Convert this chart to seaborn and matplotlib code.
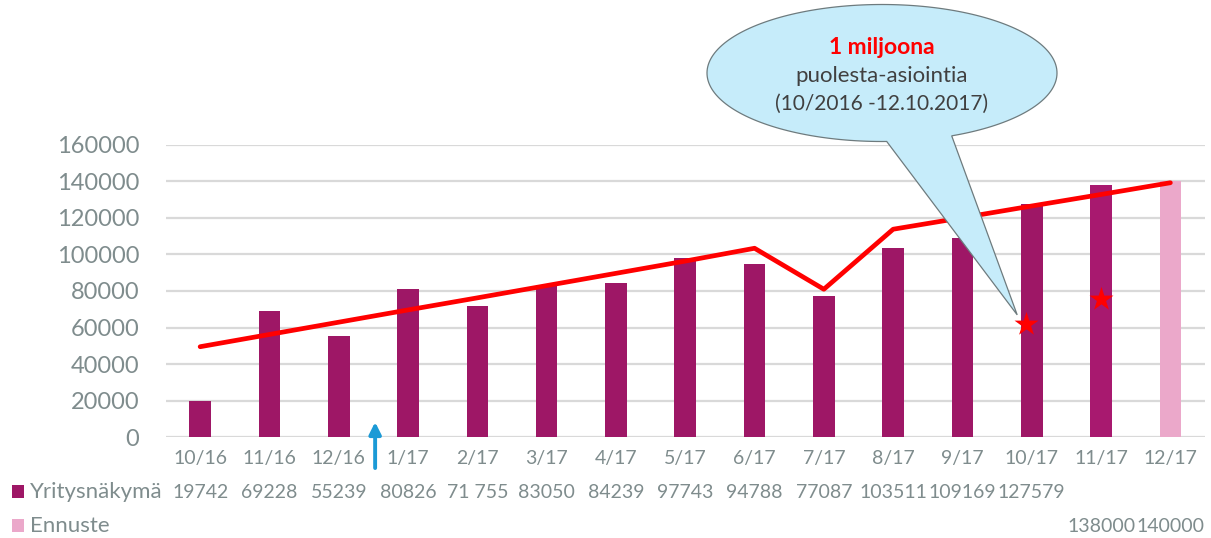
import numpy as np
import pandas as pd
import matplotlib
matplotlib.use('Agg')
import matplotlib.pyplot as plt
import matplotlib.transforms as mtransforms
from matplotlib.patches import Polygon, Rectangle
import seaborn as sns

# Données
months = ['10/16', '11/16', '12/16', '1/17', '2/17', '3/17', '4/17', '5/17',
          '6/17', '7/17', '8/17', '9/17', '10/17', '11/17', '12/17']
yritys = [19742, 69228, 55239, 80826, 71755, 83050, 84239, 97743,
          94788, 77087, 103511, 109169, 127579]
yritys_labels = ['19742', '69228', '55239', '80826', '71 755', '83050', '84239', '97743',
                 '94788', '77087', '103511', '109169', '127579']
ennuste = [138000, 140000]
trend = [49500, 56200, 62900, 69600, 76200, 82900, 89600, 96300,
         103300, 80900, 113700, 120000, 126400, 132700, 139100]
star_months = [11.91, 13]
star_values = [61900, 75400]
yticks = [0, 20000, 40000, 60000, 80000, 100000, 120000, 140000, 160000]

c_yritys = '#9E1766'
c_nov = '#A8196F'
c_ennuste = '#EBA8CA'
c_text = '#7F8C8D'

sns.set_style('white')
plt.rcParams['font.family'] = ['Lato', 'DejaVu Sans']

W, H = 1211, 538
fig = plt.figure(figsize=(W / 100, H / 100), dpi=100)
ax = fig.add_axes([165.5 / W, 1 - 437.3 / H, (1205 - 165.5) / W, 292.8 / H])

df = pd.DataFrame({'Kuukausi': months, 'Arvo': yritys + ennuste})
colors = [c_yritys] * len(yritys) + [c_nov, c_ennuste]
sns.barplot(data=df, x='Kuukausi', y='Arvo', hue='Kuukausi', palette=colors,
            order=months, width=0.313, saturation=1, linewidth=0, legend=False,
            ax=ax, zorder=2)

pos = np.arange(len(months))
sns.lineplot(x=pos, y=trend, color='#FF0000', linewidth=3.4, ax=ax, zorder=3)
sns.scatterplot(x=star_months, y=star_values, marker='*', s=330, color='#FF0000',
                linewidth=0, ax=ax, zorder=4)

ax.set_xlim(-0.5, len(months) - 0.5)
ax.set_ylim(0, 160000)
ax.set_yticks(yticks)
ax.set_yticklabels([str(v) for v in yticks])
ax.grid(axis='y', color='#D9D9D9', linewidth=1.6, zorder=0)
ax.set_axisbelow(True)
for s in ax.spines.values():
    s.set_visible(False)
ax.tick_params(axis='y', length=0, pad=19, labelsize=17, labelcolor=c_text)
ax.tick_params(axis='x', length=0, pad=9, labelsize=14, labelcolor=c_text)
ax.set_xlabel('')
ax.set_ylabel('')

# Tableau de données sous le graphique
trans = mtransforms.blended_transform_factory(ax.transData, ax.transAxes)
for i, lab in enumerate(yritys_labels):
    ax.text(i, -0.187, lab, transform=trans, ha='center', va='center',
            fontsize=14, color=c_text, clip_on=False)
for i, v in enumerate(ennuste):
    ax.text(len(yritys) + i, -0.303, str(v), transform=trans, ha='center', va='center',
            fontsize=14, color=c_text, clip_on=False)

fig.patches.append(Rectangle((12 / W, 1 - 498 / H), 12 / W, 13 / H, transform=fig.transFigure,
                             facecolor=c_yritys, edgecolor='none'))
fig.patches.append(Rectangle((12 / W, 1 - 532 / H), 12 / W, 13 / H, transform=fig.transFigure,
                             facecolor=c_ennuste, edgecolor='none'))
fig.text(30 / W, 1 - 492 / H, 'Yritysnäkymä', ha='left', va='center', fontsize=16, color=c_text)
fig.text(30 / W, 1 - 526 / H, 'Ennuste', ha='left', va='center', fontsize=16, color=c_text)

# Flèche bleue
ax.annotate('', xy=(2.525, 0.052), xytext=(2.525, -0.105), xycoords=trans, textcoords=trans,
            annotation_clip=False,
            arrowprops=dict(arrowstyle='-|>,head_width=0.35,head_length=0.7',
                            color='#1B9AD6', lw=2.8, shrinkA=0, shrinkB=0))

# Bulle
cx, cy, a, b = 882, 73, 175, 68.5
t1 = np.degrees(np.arccos((886.7 - cx) / a))
t2 = 360 + np.degrees(np.arccos((951.7 - cx) / a))
t = np.radians(np.linspace(t1, t2, 200))
px = cx + a * np.cos(t)
py = cy + b * np.sin(t)
tip = ax.transData.transform((star_months[0] - 0.12, star_values[0] + 5000))
tip = fig.transFigure.inverted().transform(tip)
pts = np.column_stack([px / W, 1 - py / H])
pts = np.vstack([pts, tip])
fig.patches.append(Polygon(pts, closed=True, transform=fig.transFigure,
                           facecolor='#C6ECFA', edgecolor='#6E7B7E', linewidth=0.9, zorder=5))
fig.text(cx / W, 1 - 48 / H, '1 miljoona', ha='center', va='center', fontsize=16.5,
         fontweight='bold', color='#FF0000', zorder=6)
fig.text(cx / W, 1 - 76 / H, 'puolesta-asiointia', ha='center', va='center', fontsize=16,
         color='#404040', zorder=6)
fig.text(cx / W, 1 - 104 / H, '(10/2016 -12.10.2017)', ha='center', va='center', fontsize=15,
         color='#404040', zorder=6)

plt.savefig('out.png', dpi=100)
